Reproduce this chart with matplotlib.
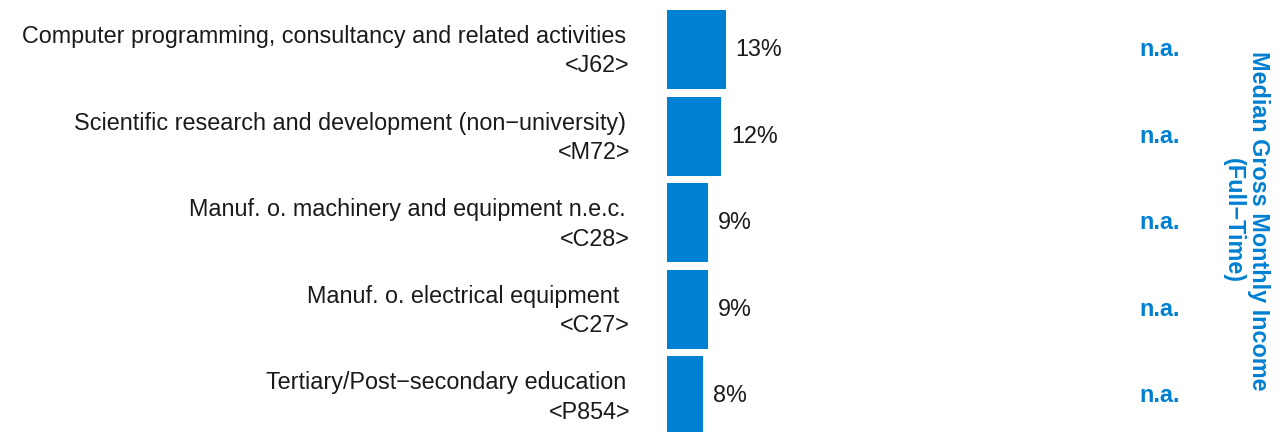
import numpy as np
from matplotlib import pyplot as plt
from matplotlib.transforms import blended_transform_factory

plt.rcParams['font.family'] = ['Liberation Sans', 'DejaVu Sans']

# data
sectors = ['Computer programming, consultancy and related activities',
           'Scientific research and development (non\u2212university)',
           'Manuf. o. machinery and equipment n.e.c.',
           'Manuf. o. electrical equipment ',
           'Tertiary/Post\u2212secondary education']
codes = ['<J62>', '<M72>', '<C28>', '<C27>', '<P854>']
shares = [13, 12, 9, 9, 8]
income = ['n.a.', 'n.a.', 'n.a.', 'n.a.', 'n.a.']

blue = '#0080D2'
W, H = 1282, 432
fs = 16.8

fig = plt.figure(figsize=(W / 100, H / 100), dpi=100)
ax = fig.add_axes([667 / W, 0, 1 - 667 / W, 1])
ypos = np.arange(len(shares))
ax.barh(ypos, shares, height=0.91, color=blue)
ax.set_xlim(0, 135.5)
ax.set_ylim(4.417, -0.572)
ax.axis('off')

for y, v in zip(ypos, shares):
    ax.annotate('{}%'.format(v), (v, y), xytext=(7, 0), textcoords='offset points',
                va='center', ha='left', fontsize=fs, color='#1a1a1a')

# category labels left of the bars
tr = blended_transform_factory(fig.transFigure, ax.transData)
for y, name, code in zip(ypos, sectors, codes):
    fig.text(626 / W, y - 0.15, name, transform=tr, ha='right', va='center',
             fontsize=fs, color='#1a1a1a')
    fig.text(630 / W, y + 0.19, code, transform=tr, ha='right', va='center',
             fontsize=fs, color='#1a1a1a')

for y, s in zip(ypos, income):
    fig.text(1160 / W, y, s, transform=tr, ha='center', va='center',
             fontsize=fs, fontweight='bold', color=blue)

fig.text(1246 / W, 0.49, 'Median Gross Monthly Income\n(Full\u2212Time)', rotation=-90,
         ha='center', va='center', multialignment='center',
         fontsize=fs, fontweight='bold', color=blue, linespacing=1.1)

fig.savefig('out.png', dpi=100)
